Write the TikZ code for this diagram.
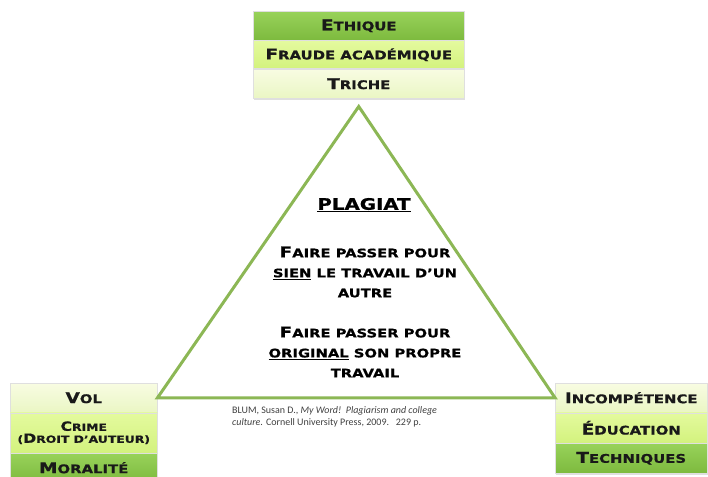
\documentclass[tikz,border=0pt]{standalone}
\usepackage{fontspec}
\newfontfamily\copper{DejaVu Sans}[FakeStretch=1.25, FakeBold=0.8]
\newfontfamily\citefont{Carlito}
\definecolor{LeafDark}{HTML}{7DBA3E}
\definecolor{LeafDarkTop}{HTML}{98D25A}
\definecolor{LimeMid}{HTML}{D3F27E}
\definecolor{LimeMidTop}{HTML}{E4FA9E}
\definecolor{PaleLime}{HTML}{EAF6C4}
\definecolor{PaleLimeTop}{HTML}{F8FCE2}
\definecolor{EdgeGreen}{HTML}{8CB755}
\definecolor{CiteGray}{HTML}{404040}
\usepackage{tikz}
\usetikzlibrary{positioning, shadows, calc}
\newcommand\bigc[1]{{\fontsize{14.8}{16}\selectfont #1}}
\newcommand\midc[1]{{\fontsize{12.6}{14}\selectfont #1}}
\newcommand\defc[1]{{\fontsize{14.8}{20}\selectfont #1}}
\tikzset{
  boxbase/.style={rectangle, draw=white!75!gray, line width=0.5pt, inner sep=0pt, align=center, text=black!90, font=\copper\bfseries\fontsize{11.9}{13}\selectfont, drop shadow={shadow xshift=1pt, shadow yshift=-1.5pt, opacity=0.25}},
  darkbox/.style={boxbase, top color=LeafDarkTop, bottom color=LeafDark},
  limebox/.style={boxbase, top color=LimeMidTop, bottom color=LimeMid},
  palebox/.style={boxbase, top color=PaleLimeTop, bottom color=PaleLime},
  edgeline/.style={EdgeGreen, line width=3pt, line join=miter},
  deftext/.style={align=center, inner sep=0pt, font=\copper\bfseries\fontsize{11.8}{20}\selectfont},
  citetext/.style={align=left, inner sep=0pt, text=CiteGray, font=\citefont\fontsize{10}{12}\selectfont}
}

\begin{document}
\begin{tikzpicture}[x=1pt, y=-1pt]
  \useasboundingbox (0,0) rectangle (708,476);

  % Top stack
  \node[darkbox, minimum width=211pt, minimum height=29pt, anchor=north west] (ethique) at (253,11) {\bigc{E}THIQUE};
  \node[limebox, minimum width=211pt, minimum height=28pt, below=0pt of ethique] (fraude) {\bigc{F}RAUDE ACADÉMIQUE};
  \node[palebox, minimum width=211pt, minimum height=29pt, below=0pt of fraude] (triche) {\bigc{T}RICHE};

  % Left stack
  \node[palebox, minimum width=147pt, minimum height=29pt, anchor=north west] (vol) at (10,383) {\bigc{V}OL};
  \node[limebox, minimum width=147pt, minimum height=40pt, below=0pt of vol, font=\copper\bfseries\fontsize{9.9}{12}\selectfont] (crime) {\midc{C}RIME\\(\midc{D}ROIT D’AUTEUR)};
  \node[darkbox, minimum width=147pt, minimum height=29pt, below=0pt of crime] (moralite) {\bigc{M}ORALITÉ};

  % Right stack
  \node[palebox, minimum width=152pt, minimum height=29pt, anchor=north west] (incomp) at (555,383) {\bigc{I}NCOMPÉTENCE};
  \node[limebox, minimum width=152pt, minimum height=30pt, below=0pt of incomp] (educ) {\bigc{É}DUCATION};
  \node[darkbox, minimum width=152pt, minimum height=30pt, below=0pt of educ] (techn) {\bigc{T}ECHNIQUES};

  % Triangle
  \coordinate (apex) at ([yshift=-8pt]triche.south);
  \coordinate (cornerl) at (vol.east);
  \coordinate (cornerr) at (incomp.west);
  \draw[edgeline] (apex) -- (cornerl) -- (cornerr) -- cycle;

  % Centre text
  \node[deftext, font=\copper\bfseries\fontsize{15.8}{18}\selectfont] (plagiat) at (364,205) {\underline{PLAGIAT}};
  \node[deftext] (sien) at (365,272) {\defc{F}AIRE PASSER POUR\\\underline{SIEN} LE TRAVAIL D’UN\\AUTRE};
  \node[deftext] (original) at (365,352) {\defc{F}AIRE PASSER POUR\\\underline{ORIGINAL} SON PROPRE\\TRAVAIL};

  % Reference
  \node[citetext, anchor=north west] (cite) at (232,406) {BLUM, Susan D., \textit{My Word!\ \ Plagiarism and college}\\\textit{culture}. Cornell University Press, 2009.\ \ \ 229 p.};
\end{tikzpicture}
\end{document}
